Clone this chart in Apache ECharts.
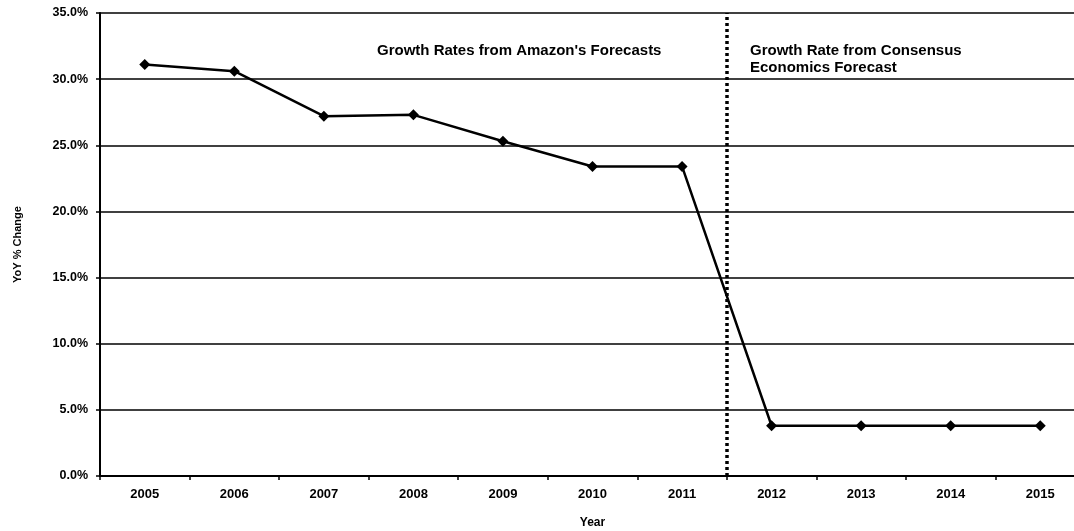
<!DOCTYPE html>
<html><head><meta charset="utf-8">
<script src="https://cdn.jsdelivr.net/npm/echarts@6/dist/echarts.min.js"></script>
<style>html,body{margin:0;padding:0;background:#fff;overflow:hidden}#c{width:1090px;height:531px}</style>
</head><body><div id="c"></div>
<script>
const years = ['2005','2006','2007','2008','2009','2010','2011','2012','2013','2014','2015'];
const growth = [31.1, 30.6, 27.2, 27.3, 25.3, 23.4, 23.4, 3.8, 3.8, 3.8, 3.8];
const yTicks = [0, 5, 10, 15, 20, 25, 30, 35];
const dividerIndex = 7; // boundary between 2011 and 2012
const leftNote = "Growth Rates from Amazon's Forecasts";
const rightNote = "Growth Rate from Consensus\nEconomics Forecast";

const font = 'Liberation Sans, Arial, sans-serif';
const chart = echarts.init(document.getElementById('c'));
chart.setOption({
  animation: false,
  grid: {left: 100, top: 13, right: 5, bottom: 55, containLabel: false, outerBoundsMode: 'none'},
  xAxis: [{
    type: 'category', data: years, boundaryGap: true,
    name: 'Year', nameLocation: 'middle', nameGap: 41,
    nameTextStyle: {fontFamily: font, fontWeight: 'bold', fontSize: 12, color: '#000'},
    axisLine: {lineStyle: {color: '#000', width: 2}},
    axisTick: {show: true, length: 4, lineStyle: {color: '#000', width: 1.5}},
    axisLabel: {fontFamily: font, fontWeight: 'bold', fontSize: 13, color: '#000', margin: 12},
    splitLine: {show: false}
  }, {
    type: 'value', min: 0, max: 11, show: false
  }],
  yAxis: {
    type: 'value', min: 0, max: 35, interval: 5,
    name: 'YoY % Change', nameLocation: 'middle', nameGap: 77, nameRotate: 90,
    nameTextStyle: {fontFamily: font, fontWeight: 'bold', fontSize: 11, color: '#000'},
    axisLine: {show: true, lineStyle: {color: '#000', width: 2}},
    axisTick: {show: true, length: 4, lineStyle: {color: '#000', width: 1.5}},
    axisLabel: {fontFamily: font, fontWeight: 'bold', fontSize: 12.5, color: '#000', margin: 12,
      formatter: v => yTicks.includes(v) ? v.toFixed(1) + '%' : ''},
    splitLine: {show: true, lineStyle: {color: '#000', width: 1.5}}
  },
  series: [{
    type: 'line', data: growth, xAxisIndex: 0,
    symbol: 'diamond', symbolSize: 11,
    lineStyle: {color: '#000', width: 2.5},
    itemStyle: {color: '#000'}
  }, {
    type: 'line', xAxisIndex: 1, data: [],
    markLine: {
      silent: true, symbol: 'none', label: {show: false},
      lineStyle: {color: '#000', type: [3, 3], width: 3.5},
      data: [{xAxis: dividerIndex}]
    }
  }],
  graphic: [
    {type: 'text', left: 377, top: 43, style: {text: leftNote, font: 'bold 15px ' + font, fill: '#000'}},
    {type: 'text', left: 750, top: 42, style: {text: rightNote, font: 'bold 15px ' + font, fill: '#000', lineHeight: 17}}
  ]
});
</script></body></html>
